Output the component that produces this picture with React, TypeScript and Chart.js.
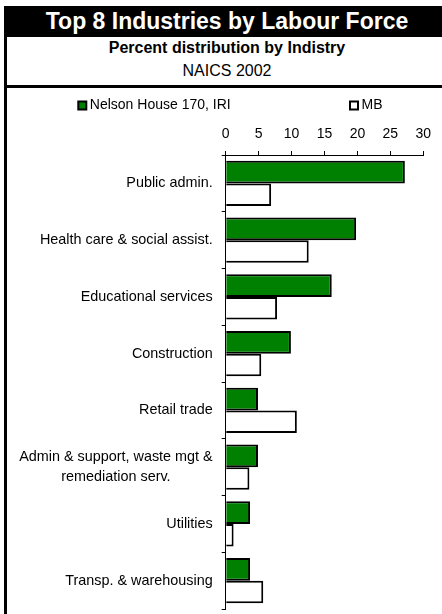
import React, { useEffect, useRef } from 'react';
import { Chart, registerables } from 'chart.js';

Chart.register(...registerables);

const FONT = '"Liberation Sans", Arial, sans-serif';

const categories: (string | string[])[] = [
  'Public admin.',
  'Health care & social assist.',
  'Educational services',
  'Construction',
  'Retail trade',
  ['Admin & support, waste mgt &', 'remediation serv.'],
  'Utilities',
  'Transp. & warehousing',
];
const seriesNames = ['Nelson House 170, IRI', 'MB'];
const nelsonHouse = [27.2, 19.8, 16.1, 9.9, 4.9, 4.9, 3.7, 3.7];
const manitoba = [6.9, 12.6, 7.8, 5.4, 10.8, 3.6, 1.2, 5.7];
const xTicks = [0, 5, 10, 15, 20, 25, 30];
const seriesColors = ['#008000', '#ffffff'];

const customPlugin = {
  id: 'customLabelsLegend',
  afterDraw(chart: any) {
    const ctx = chart.ctx as CanvasRenderingContext2D;
    const ys = chart.scales.y;
    const xs = chart.scales.x;
    ctx.save();
    ctx.font = `14.4px ${FONT}`;
    ctx.fillStyle = '#000';
    ctx.textBaseline = 'middle';
    ctx.textAlign = 'center';
    const right = xs.left - 13;
    const lh = 19.3;
    categories.forEach((cat, i) => {
      const lines = Array.isArray(cat) ? cat : [cat];
      const widest = Math.max(...lines.map((l) => ctx.measureText(l).width));
      const cx = right - widest / 2;
      const cy = ys.getPixelForValue(i);
      lines.forEach((l, j) => {
        ctx.fillText(l, cx, cy + (j - (lines.length - 1) / 2) * lh);
      });
    });
    // legend
    ctx.font = `14px ${FONT}`;
    const legendX = [70.3, 342];
    const legendMid = 17.5;
    const box = 10;
    ctx.textAlign = 'left';
    seriesNames.forEach((name, i) => {
      const bx = legendX[i];
      const by = legendMid - box / 2;
      ctx.fillStyle = '#000';
      ctx.fillRect(bx, by, box, box);
      ctx.fillStyle = seriesColors[i];
      ctx.fillRect(bx + 2, by + 2, box - 4, box - 4);
      ctx.fillStyle = '#000';
      ctx.fillText(name, bx + box + 2.5, legendMid);
    });
    ctx.restore();
  },
};

function BarChart() {
  const ref = useRef<HTMLCanvasElement | null>(null);
  useEffect(() => {
    if (!ref.current) return;
    const chart = new Chart(ref.current, {
      type: 'bar',
      data: {
        labels: categories as any,
        datasets: [
          {
            label: seriesNames[0],
            data: nelsonHouse,
            backgroundColor: seriesColors[0],
            borderColor: '#000',
            borderWidth: 2,
            categoryPercentage: 0.8,
            barPercentage: 1.0,
          },
          {
            label: seriesNames[1],
            data: manitoba,
            backgroundColor: seriesColors[1],
            borderColor: '#000',
            borderWidth: 2,
            categoryPercentage: 0.8,
            barPercentage: 1.0,
          },
        ],
      },
      options: {
        indexAxis: 'y',
        animation: false,
        responsive: false,
        devicePixelRatio: window.devicePixelRatio || 1,
        layout: { padding: { left: 0, right: 18.7, top: 0, bottom: 5 } },
        plugins: {
          legend: { display: false },
          tooltip: { enabled: false },
        },
        scales: {
          x: {
            position: 'top',
            min: xTicks[0],
            max: xTicks[xTicks.length - 1],
            afterBuildTicks: (s: any) => {
              s.ticks = xTicks.map((v) => ({ value: v }));
            },
            ticks: {
              color: '#000',
              font: { family: FONT, size: 14 },
              padding: 8,
            },
            grid: {
              drawOnChartArea: false,
              drawTicks: true,
              tickLength: 4,
              color: '#000',
            },
            border: { color: '#000', width: 1 },
            afterFit: (s: any) => {
              s.height = 67;
            },
          },
          y: {
            ticks: { display: false },
            grid: {
              drawOnChartArea: false,
              drawTicks: true,
              tickLength: 4,
              color: '#000',
              offset: true,
            },
            border: { color: '#000', width: 1 },
            afterFit: (s: any) => {
              s.width = 218.7;
            },
          },
        },
      } as any,
      plugins: [customPlugin],
    });
    return () => chart.destroy();
  }, []);
  return (
    <canvas
      ref={ref}
      width={435}
      height={526}
      style={{ position: 'absolute', left: 7, top: 88, width: 435, height: 526 }}
    />
  );
}

export default function App() {
  useEffect(() => {
    document.body.style.margin = '0';
    document.body.style.overflow = 'hidden';
  }, []);
  return (
    <div
      style={{
        position: 'relative',
        width: 442,
        height: 614,
        overflow: 'hidden',
        background: '#fff',
        fontFamily: FONT,
      }}
    >
      <div
        style={{
          position: 'absolute',
          left: 4,
          top: 6,
          width: 446,
          height: 31,
          background: '#000',
          color: '#fff',
          fontWeight: 'bold',
          fontSize: 23,
          lineHeight: '31px',
          textAlign: 'center',
          whiteSpace: 'nowrap',
        }}
      >
        Top 8 Industries by Labour Force
      </div>
      <div
        style={{
          position: 'absolute',
          left: 4,
          top: 6,
          width: 3,
          height: 608,
          background: '#000',
        }}
      />
      <div
        style={{
          position: 'absolute',
          left: 4,
          top: 38,
          width: 446,
          height: 20,
          lineHeight: '20px',
          fontSize: 16,
          fontWeight: 'bold',
          textAlign: 'center',
          color: '#000',
        }}
      >
        Percent distribution by Indistry
      </div>
      <div
        style={{
          position: 'absolute',
          left: 4,
          top: 61,
          width: 446,
          height: 20,
          lineHeight: '20px',
          fontSize: 16,
          textAlign: 'center',
          color: '#000',
        }}
      >
        NAICS 2002
      </div>
      <div
        style={{
          position: 'absolute',
          left: 4,
          top: 85,
          width: 446,
          height: 3,
          background: '#000',
        }}
      />
      <BarChart />
    </div>
  );
}
